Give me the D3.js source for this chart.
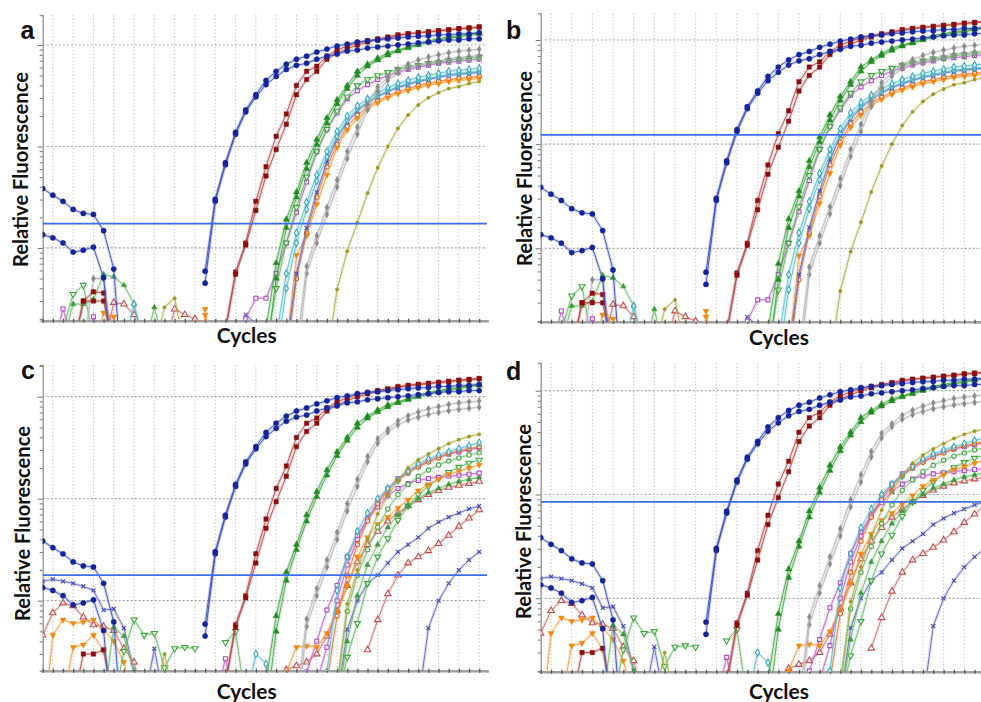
<!DOCTYPE html>
<html>
<head>
<meta charset="utf-8">
<script src="https://cdn.jsdelivr.net/npm/d3@7"></script>
<style>
  body { margin: 0; background: #fff; }
  svg { display: block; }
  .letter { font-family: "Liberation Sans", Arial, sans-serif; font-weight: 700; font-size: 25px; fill: #111; }
  .axis-title { font-family: Lato, "Open Sans", sans-serif; font-weight: 700; fill: #111; }
</style>
</head>
<body>
<div id="chart"></div>
<script>
// ---- data: relative fluorescence per cycle (log axis, grid at 100 / 1000 / 10000) ----
// every curve starts at the cycle given next to it; null = no value drawn

// curves shared by all four panels
const blueRep1 = [385, 331, 288, 240, 219, 214, 148, 62, 3, null, null, null, null, null, null, null,
  59, 302, 692, 1380, 2290, 3240, 4470, 5500, 6460, 7240, 7760, 8510, 9120, 9770, 10200, 10700,
  11000, 11200, 11500, 11700, 12000, 12200, 12300, 12600, 12600, 12900, 12900, 13200]          // from 1
const blueRep2 = [135, 126, 112, 91, 95, 102, 51, 4, null, null, null, null, null, null, null, null,
  45, 288, 661, 1320, 2190, 3090, 4070, 4900, 5750, 6310, 6610, 7240, 7760, 8130, 8710, 8910,
  9330, 9550, 9770, 10000, 10200, 10500, 10700, 11000, 11200, 11200, 11500, 11500]           // from 1
const redRep1 = [15, 55, 107, 234, 513, 933, 1660, 3240, 4570, 5500, 7240, 8320, 9120, 10000, 10700,
  11200, 11700, 12300, 12900, 13200, 13500, 13800, 14100, 14500, 14800, 15100]                 // from 19
const redRep2 = [16, 58, 112, 288, 631, 1260, 2090, 3980, 5500, 6170, 7760, 8910, 9770, 10500, 11000,
  11500, 12000, 12600, 12900, 13200, 13500, 13800, 14100, 14500, 14600, 15000]                 // from 19
const greenRep1 = [16, 71, 191, 355, 692, 1170, 1910, 2880, 3980, 5500, 6460, 7410, 8320, 8910, 9550,
  10200, 11000, 11500, 12000, 12300, 12900, 13200]                                              // from 23
const greenRep2 = [8, 50, 158, 316, 603, 1050, 1700, 2630, 3720, 5010, 6170, 7080, 7940, 8710, 9330,
  10000, 10700, 11200, 11700, 12000, 12600, 12900]                                              // from 23
const greyRep1 = [10, 66, 132, 251, 468, 891, 1550, 2600, 3900, 4800, 5800, 6500, 7100, 7600, 8000,
  8400, 8700, 8900, 9100]                                                                       // from 26
const greyRep2 = [6, 56, 112, 214, 398, 759, 1320, 2300, 3500, 4500, 5300, 5900, 6300, 6700, 7000,
  7300, 7500, 7700, 7900]                                                                       // from 26

// panels a / b
const greenOpenA = [10, 40, 112, 251, 501, 891, 1480, 2240, 3090, 3980, 4570, 5010, 5370, 5750, 6030,
  6310, 6610, 6760, 7080, 7240, 7410, 7590]                                                     // from 23
const purpleA = [20, 32, 32, 56, 112, 224, 447, 891, 1480, 2140, 2950, 3550, 4070, 4570, 5010, 5370,
  5750, 6030, 6310, 6610, 6760, 6920, 7080, 7240]                                               // from 21
const cyanA1 = [13, 56, 141, 282, 525, 891, 1410, 2000, 2510, 2950, 3390, 3800, 4170, 4470, 4790,
  5010, 5250, 5500, 5620, 5750, 5890]                                                           // from 24
const cyanA2 = [8, 40, 112, 240, 457, 794, 1260, 1820, 2340, 2750, 3160, 3550, 3890, 4170, 4470,
  4680, 4900, 5130, 5250, 5370, 5500]                                                           // from 24
const navyA = [22, 18, null, null, 10, 56, 158, 355, 708, 1200, 1740, 2240, 2690, 3090, 3470, 3800,
  4070, 4370, 4570, 4790, 5010, 5130, 5250, 5370]                                               // from 21
const orangeA1 = [10, 85, 132, 269, 525, 977, 1450, 1900, 2340, 2690, 3020, 3310, 3550, 3800, 3980,
  4170, 4370, 4470, 4570, 4680]                                                                 // from 25
const orangeA2 = [8, 50, 141, 316, 631, 1050, 1580, 2040, 2450, 2820, 3160, 3470, 3720, 3980, 4170,
  4370, 4570, 4680, 4790, 4900]                                                                 // from 25
const oliveA = [8, 39, 93, 178, 347, 617, 1000, 1510, 2040, 2570, 3020, 3390, 3720, 3890, 4170, 4370] // from 29

const noiseGreenOpenA = [16, 35, 43, 12]                 // from 3
const noiseGreenA1 = [12, 28, 28, 31, 55, 52, 43, 28, 10] // from 3
const noiseGreenA2 = [10, 26, 10]                        // from 11
const noiseGreyA = [10, 50, 50, 10]                      // from 5
const noiseRedA1 = [10, 30, 37, 36, 10]                  // from 4
const noiseRedA2 = [10, 30, 30, 30, 10]                  // from 4
const noisePurpleA = [10, 25, 12, 10, 21, 10]            // from 2
const noisePinkA1 = [10, 29, 28, 22, 10]                 // from 7
const noisePinkA2 = [10, 25, 22, 20, 10]                 // from 13
const noiseCyanA = [10, 28, 10]                          // from 9
const noiseOliveA = [10, 26, 32, 10]                     // from 12
const noiseOrangeA1 = [10, 23, 21, 10]                   // from 6
const noiseOrangeA2 = [25, 5]                            // from 17
const noiseOrangeA3 = [5, 22]                            // from 16

// panels c / d
const oliveC = [13, 93, 200, 398, 708, 1070, 1510, 2000, 2400, 2750, 3090, 3470, 3800, 4070, 4270]   // from 30
const cyanC = [20, 126, 269, 479, 724, 1000, 1260, 1510, 1860, 2190, 2450, 2690, 2880, 3090, 3310, 3550] // from 29
const orangeOpenC = [16, 71, 178, 355, 603, 891, 1200, 1510, 1780, 2040, 2290, 2510, 2750, 2950, 3090, 3240] // from 29
const greenCircleC = [16, 79, 178, 316, 525, 794, 1100, 1380, 1660, 1910, 2140, 2340, 2510, 2690, 2820] // from 30
const orangeC = [20, 35, 36, 35, 48, 78, 138, 269, 417, 562, 661, 813, 977, 1200, 1380, 1550, 1740,
  1860, 2000, 2140]                                                                              // from 25
const purpleC1 = [20, 40, 81, 141, 269, 437, 631, 832, 1070, 1260, 1410, 1510, 1580, 1620, 1660,
  1700, 1740, 1780]                                                                              // from 27
const purpleC2 = [16, 35, 100, 224, 398, 631, 933, 1260, 1580, 1860, 2090, 2340, 2570, 2750, 2880,
  3020, 3160]                                                                                    // from 28
const greenLightC = [10, 40, 112, 224, 355, 525, 692, 851, 1000, 1150, 1260, 1380, 1480, 1550, 1620] // from 30
const greenOpenC = [10, 28, 60, 148, 269, 407, 617, 851, 1100, 1320, 1580, 1820, 2040, 2240, 2400]  // from 30
const pinkC1 = [21, 23, 25, 30, 45, 79, 141, 240, 355, 479, 603, 724, 851, 977, 1100, 1200, 1290,
  1350, 1410, 1480]                                                                              // from 25
const navyC = [10, 52, 100, 148, 178, 234, 302, 355, 417, 513, 589, 661, 724, 794, 851]          // from 30
const pinkC2 = [33, 65, 117, 178, 234, 269, 309, 363, 437, 537, 646, 776]                         // from 33
const lateBlueC = [10, 54, 100, 148, 200, 251, 302]                                               // from 38

const noiseNavyC = [155, 162, 155, 148, 138, 126, 81, 83, 54, 20, 8]      // from 1
const noisePinkC = [46, 76, 95, 89, 69, 58, 56, 51, 34, 25, 10]           // from 1
const noiseOrangeC1 = [5, 46, 65, 60, 62, 65, 52, 40, 25, 10]             // from 1
const noiseOrangeC2 = [10, 35, 37, 46, 32, 10]                            // from 3
const noiseRedC = [10, 30, 30, 33, 10]                                    // from 4
const noiseGreenOpenC = [10, 32, 65, 46, 48, 22, 34, 35, 34, null, null, 39, 50, 10] // from 8
const noiseGreenC = [10, 55, 45, 20, 10]                                  // from 7
const noisePurpleC = [10, 27, 10]                                         // from 18
const noiseCyanC = [10, 30, 24, 10]                                       // from 21
const noiseNavyC2 = [10, 34, 10]                                          // from 11
const noiseOliveC = [10, 30, 10]                                          // from 12

// threshold levels
const thresholdA = 174
const thresholdB = 1225
const thresholdC = 178
const thresholdD = 851

// ---- marker / line styles ----
const STYLES = {
  blue:    { stroke: "#3a4ec2", fill: "#15249a", shape: "circle", size: 22 },
  red:     { stroke: "#b84a4a", fill: "#8c0d0d", shape: "square", size: 20 },
  green:   { stroke: "#45a845", fill: "#218a21", shape: "triangle", size: 17 },
  grey:    { stroke: "#b6b6b6", fill: "#8a8a8a", shape: "diamond", size: 14 },
  purple:  { stroke: "#bd62d4", fill: "#b04cc8", shape: "square", size: 16, open: true },
  cyan:    { stroke: "#5cc0ce", fill: "#38a8b8", shape: "diamond", size: 15, open: true },
  navy:    { stroke: "#6066c6", fill: "#4248b4", shape: "times", size: 12, open: true },
  orange:  { stroke: "#f4a040", fill: "#f38810", shape: "triangleDown", size: 16 },
  orangeO: { stroke: "#eb7a36", fill: "#e2621a", shape: "circle", size: 15, open: true },
  olive:   { stroke: "#b0ad46", fill: "#9c9820", shape: "circle", size: 9 },
  greenO:  { stroke: "#66bc66", fill: "#3fa53f", shape: "triangleDown", size: 16, open: true },
  greenC:  { stroke: "#72c072", fill: "#4aa84a", shape: "circle", size: 15, open: true },
  greenL:  { stroke: "#6abc6a", fill: "#3c9c3c", shape: "triangle", size: 14 },
  pink:    { stroke: "#cc7070", fill: "#c05050", shape: "triangle", size: 18, open: true }
}

const shared = [
  { start: 26, values: greyRep2, style: "grey" },
  { start: 26, values: greyRep1, style: "grey" },
  { start: 23, values: greenRep2, style: "green" },
  { start: 23, values: greenRep1, style: "green" },
  { start: 19, values: redRep2, style: "red" },
  { start: 19, values: redRep1, style: "red" },
  { start: 1, values: blueRep2, style: "blue" },
  { start: 1, values: blueRep1, style: "blue" }
]

const runAB = [
  { start: 3, values: noiseGreenOpenA, style: "greenO" },
  { start: 3, values: noiseGreenA1, style: "greenL" },
  { start: 11, values: noiseGreenA2, style: "greenL" },
  { start: 5, values: noiseGreyA, style: "grey" },
  { start: 4, values: noiseRedA1, style: "red" },
  { start: 4, values: noiseRedA2, style: "red" },
  { start: 2, values: noisePurpleA, style: "purple" },
  { start: 7, values: noisePinkA1, style: "pink" },
  { start: 13, values: noisePinkA2, style: "pink" },
  { start: 9, values: noiseCyanA, style: "cyan" },
  { start: 12, values: noiseOliveA, style: "olive" },
  { start: 6, values: noiseOrangeA1, style: "orange" },
  { start: 17, values: noiseOrangeA2, style: "orange" },
  { start: 16, values: noiseOrangeA3, style: "orange" },
  { start: 29, values: oliveA, style: "olive" },
  { start: 25, values: orangeA2, style: "orangeO" },
  { start: 25, values: orangeA1, style: "orange" },
  { start: 21, values: navyA, style: "navy" },
  { start: 24, values: cyanA2, style: "cyan" },
  { start: 24, values: cyanA1, style: "cyan" },
  { start: 21, values: purpleA, style: "purple" },
  { start: 23, values: greenOpenA, style: "greenO" }
].concat(shared)

const runCD = [
  { start: 1, values: noiseNavyC, style: "navy" },
  { start: 1, values: noisePinkC, style: "pink" },
  { start: 1, values: noiseOrangeC1, style: "orange" },
  { start: 3, values: noiseOrangeC2, style: "orange" },
  { start: 4, values: noiseRedC, style: "red" },
  { start: 8, values: noiseGreenOpenC, style: "greenO" },
  { start: 7, values: noiseGreenC, style: "greenL" },
  { start: 18, values: noisePurpleC, style: "purple" },
  { start: 21, values: noiseCyanC, style: "cyan" },
  { start: 11, values: noiseNavyC2, style: "navy" },
  { start: 12, values: noiseOliveC, style: "olive" },
  { start: 38, values: lateBlueC, style: "navy" },
  { start: 33, values: pinkC2, style: "pink" },
  { start: 30, values: navyC, style: "navy" },
  { start: 25, values: pinkC1, style: "pink" },
  { start: 30, values: greenOpenC, style: "greenO" },
  { start: 30, values: greenLightC, style: "greenL" },
  { start: 28, values: purpleC2, style: "purple" },
  { start: 27, values: purpleC1, style: "purple" },
  { start: 25, values: orangeC, style: "orange" },
  { start: 30, values: greenCircleC, style: "greenC" },
  { start: 29, values: orangeOpenC, style: "orangeO" },
  { start: 29, values: cyanC, style: "cyan" },
  { start: 30, values: oliveC, style: "olive" }
].concat(shared)

// ---- layout ----
const panels = [
  { id: "a", run: runAB, threshold: thresholdA, x0: 42.7, x1: 487, y0: 15, y1: 320.7, xMax: 44.77,
    yDomain: [19.2, 19750], letter: [20.5, 38.5], yTitle: [28, 169.5], xTitle: [246.7, 342.5] },
  { id: "b", run: runAB, threshold: thresholdB, x0: 540.7, x1: 981, y0: 13.3, y1: 321.7, xMax: 43.62,
    yDomain: [19.73, 18050], letter: [506, 38.5], yTitle: [532, 168.5], xTitle: [779, 344.5] },
  { id: "c", run: runCD, threshold: thresholdC, x0: 42.7, x1: 487, y0: 365, y1: 670.7, xMax: 44.77,
    yDomain: [20.6, 20460], letter: [21, 378.5], yTitle: [29.5, 523.5], xTitle: [246.7, 699] },
  { id: "d", run: runCD, threshold: thresholdD, x0: 540.7, x1: 981, y0: 363, y1: 671.7, xMax: 43.62,
    yDomain: [19.63, 18490], letter: [506, 380], yTitle: [531, 521.5], xTitle: [779, 699] }
]

const W = 981, H = 702
const svg = d3.select("#chart").append("svg")
  .attr("width", W)
  .attr("height", H)
  .style("background", "#fff")

const symbolTypes = {
  circle: d3.symbolCircle,
  square: d3.symbolSquare,
  triangle: d3.symbolTriangle,
  triangleDown: d3.symbolTriangle,
  diamond: d3.symbolDiamond,
  times: d3.symbolTimes || d3.symbolCross
}

panels.forEach(p => {
  const x = d3.scaleLinear().domain([1, p.xMax]).range([p.x0, p.x1])
  const y = d3.scaleLog().domain(p.yDomain).range([p.y1, p.y0])
  const g = svg.append("g").attr("class", "panel-" + p.id)

  const clipId = "clip-" + p.id
  g.append("clipPath").attr("id", clipId)
    .append("rect")
      .attr("x", p.x0).attr("y", p.y0)
      .attr("width", p.x1 - p.x0).attr("height", p.y1 - p.y0)

  // dotted grid: every second cycle, every decade
  const evenCycles = d3.range(2, 45, 2).filter(c => x(c) <= p.x1 - 1)
  g.append("g").selectAll("line")
    .data(evenCycles)
    .join("line")
      .attr("x1", d => x(d)).attr("x2", d => x(d))
      .attr("y1", p.y0).attr("y2", p.y1)
      .attr("stroke", "#c9c9c9")
      .attr("stroke-width", 1)
      .attr("stroke-dasharray", "1.5,2")

  g.append("g").selectAll("line")
    .data([100, 1000, 10000])
    .join("line")
      .attr("x1", p.x0).attr("x2", p.x1)
      .attr("y1", d => y(d)).attr("y2", d => y(d))
      .attr("stroke", "#a8a8a8")
      .attr("stroke-width", 1.2)
      .attr("stroke-dasharray", "2,2")

  // axes
  const yTicks = y.ticks().filter(v => v >= p.yDomain[0] && v <= p.yDomain[1])
  const yAxis = g.append("g")
    .attr("transform", `translate(${p.x0},0)`)
    .call(d3.axisLeft(y).tickValues(yTicks).tickFormat("").tickSizeOuter(0).tickSize(3))
  yAxis.select(".domain").attr("stroke", "#9a9a9a").attr("stroke-width", 1.4)
  yAxis.selectAll(".tick line")
    .attr("stroke", "#777")
    .attr("x2", d => Math.abs(Math.log10(d) % 1) < 1e-6 ? -5 : -3)

  const cycles = d3.range(1, 45).filter(c => x(c) <= p.x1)
  const xAxis = g.append("g")
    .attr("transform", `translate(0,${p.y1})`)
    .call(d3.axisBottom(x).tickValues(cycles).tickFormat("").tickSizeOuter(0).tickSize(2))
  xAxis.select(".domain").attr("stroke", "#a0a0a0").attr("stroke-width", 2.6)
  xAxis.selectAll(".tick line").attr("stroke", "#555").attr("stroke-width", 1.3).attr("y1", -2)

  // amplification curves
  const line = d3.line()
    .defined(d => d.v != null)
    .x(d => x(d.c))
    .y(d => y(d.v))

  const plot = g.append("g").attr("clip-path", `url(#${clipId})`)

  p.run.forEach(s => {
    const st = STYLES[s.style]
    const pts = s.values.map((v, i) => ({ c: s.start + i, v }))
    const sg = plot.append("g")

    sg.append("path")
      .datum(pts)
      .attr("d", line)
      .attr("fill", "none")
      .attr("stroke", st.stroke)
      .attr("stroke-opacity", 0.2)
      .attr("stroke-width", 3.2)
    sg.append("path")
      .datum(pts)
      .attr("d", line)
      .attr("fill", "none")
      .attr("stroke", st.stroke)
      .attr("stroke-opacity", 0.9)
      .attr("stroke-width", 1)

    const sym = d3.symbol().type(symbolTypes[st.shape]).size(st.size)
    sg.selectAll("path.mark")
      .data(pts.filter(d => d.v != null))
      .join("path")
        .attr("class", "mark")
        .attr("d", sym)
        .attr("transform", d => `translate(${x(d.c)},${y(d.v)})${st.shape === "triangleDown" ? " rotate(180)" : ""}`)
        .attr("fill", st.open ? (st.shape === "times" ? "none" : "#fff") : st.fill)
        .attr("fill-opacity", st.open ? 0.7 : 1)
        .attr("stroke", st.fill)
        .attr("stroke-width", st.open ? 1.1 : 0.4)
  })

  // threshold
  g.append("line")
    .attr("x1", p.x0).attr("x2", p.x1)
    .attr("y1", y(p.threshold)).attr("y2", y(p.threshold))
    .attr("stroke", "#3d6ef4")
    .attr("stroke-width", 1.8)

  // titles
  g.append("text")
    .attr("class", "letter")
    .attr("x", p.letter[0]).attr("y", p.letter[1])
    .text(p.id)

  g.append("text")
    .attr("class", "axis-title")
    .attr("transform", `translate(${p.yTitle[0]},${p.yTitle[1]}) rotate(-90)`)
    .attr("text-anchor", "middle")
    .attr("font-size", 20)
    .attr("textLength", 195)
    .attr("lengthAdjust", "spacingAndGlyphs")
    .text("Relative Fluorescence")

  g.append("text")
    .attr("class", "axis-title")
    .attr("x", p.xTitle[0]).attr("y", p.xTitle[1])
    .attr("text-anchor", "middle")
    .attr("font-size", 20)
    .attr("textLength", 60)
    .attr("lengthAdjust", "spacingAndGlyphs")
    .text("Cycles")
})
</script>
</body>
</html>
